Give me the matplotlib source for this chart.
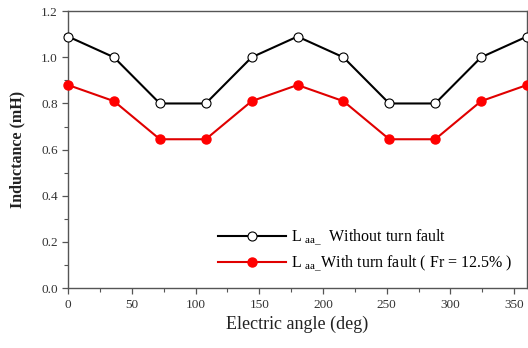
import numpy as np
import matplotlib.pyplot as plt
from matplotlib.ticker import MultipleLocator

plt.rcParams['font.family'] = ['Liberation Serif', 'DejaVu Serif']
plt.rcParams['mathtext.fontset'] = 'custom'
plt.rcParams['mathtext.rm'] = 'Liberation Serif'
plt.rcParams['mathtext.it'] = 'Liberation Serif'

# electric angle positions (deg)
angle = [0, 36, 72, 108, 144, 180, 216, 252, 288, 324, 360]
# self inductance of phase a (mH)
laa_healthy = [1.09, 1.00, 0.80, 0.80, 1.00, 1.09, 1.00, 0.80, 0.80, 1.00, 1.09]
laa_fault = [0.88, 0.81, 0.645, 0.645, 0.81, 0.88, 0.81, 0.645, 0.645, 0.81, 0.88]

label_healthy = r"L $_{\mathrm{aa\_}}$  Without turn fault"
label_fault = r"L $_{\mathrm{aa\_}}$With turn fault ( Fr = 12.5% )"

fig = plt.figure(figsize=(5.28, 3.48), dpi=100)
ax = fig.add_axes([0.129, 0.172, 0.869, 0.796])

ax.plot(angle, laa_healthy, color='black', lw=1.5, marker='o', ms=6.5,
        mfc='white', mec='black', mew=0.8, label=label_healthy, clip_on=False, zorder=3)
ax.plot(angle, laa_fault, color='#e00000', lw=1.5, marker='o', ms=6.5,
        mfc='#ff0000', mec='#ff0000', label=label_fault, clip_on=False, zorder=3)

ax.set_xlim(0, 360)
ax.set_ylim(0, 1.2)
ax.xaxis.set_major_locator(MultipleLocator(50))
ax.xaxis.set_minor_locator(MultipleLocator(25))
ax.yaxis.set_major_locator(MultipleLocator(0.2))
ax.yaxis.set_minor_locator(MultipleLocator(0.1))
ax.yaxis.set_major_formatter(plt.FuncFormatter(lambda v, p: f"{v:.1f}"))

for s in ax.spines.values():
    s.set_color('#555555')
    s.set_linewidth(1.0)
ax.tick_params(which='major', direction='out', length=4, width=0.9,
               colors='#555555', labelcolor='#333333', labelsize=9.5)
ax.tick_params(which='minor', direction='out', length=3, width=0.8, colors='#555555')
ax.tick_params(top=False, right=False, which='both')

ax.set_xlabel("Electric angle (deg)", fontsize=13, color='#222222', labelpad=4)
ax.set_ylabel("Inductance (mH)", fontsize=11.5, fontweight='bold', color='#222222', labelpad=11)

leg = ax.legend(loc='lower right', bbox_to_anchor=(1.0, 0.0), frameon=False, fontsize=11.5,
                handlelength=4.3, handletextpad=0.3, labelspacing=0.35, borderaxespad=0.5)

fig.savefig("out.png", dpi=100)
